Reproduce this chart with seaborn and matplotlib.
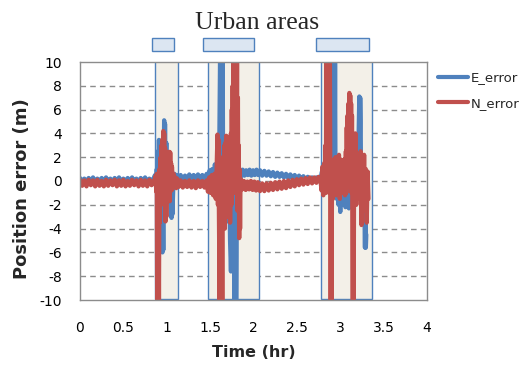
import matplotlib
matplotlib.use('Agg')
import matplotlib.pyplot as plt
import seaborn as sns
import pandas as pd
from matplotlib.patches import Rectangle

# E_error (blue) - time in hours, error in metres
e_time = [0.0, 0.025, 0.05, 0.075, 0.1, 0.125, 0.15, 0.175, 0.2, 0.225, 0.25, 0.275, 0.3, 0.325, 0.35, 0.375, 0.4, 0.425,
          0.45, 0.475, 0.5, 0.525, 0.55, 0.575, 0.6, 0.625, 0.65, 0.675, 0.7, 0.725, 0.75, 0.775, 0.8, 0.825, 0.85,
          # urban 1
          0.865, 0.875, 0.885, 0.895, 0.9, 0.905, 0.91, 0.915, 0.92, 0.925, 0.935, 0.945, 0.95, 0.955, 0.96, 0.965,
          0.97, 0.975, 0.98, 0.985, 0.995, 1.005, 1.015, 1.025, 1.035, 1.045, 1.055, 1.06, 1.065, 1.075, 1.09,
          1.105, 1.12,
          1.135, 1.16, 1.185, 1.21, 1.235, 1.26, 1.285, 1.31, 1.335, 1.36, 1.385, 1.41, 1.435, 1.46,
          # urban 2
          1.48, 1.495, 1.51, 1.525, 1.54, 1.555, 1.57, 1.585, 1.6, 1.615, 1.62, 1.625, 1.63, 1.635, 1.64, 1.645,
          1.65, 1.66, 1.67, 1.68, 1.69, 1.7, 1.71, 1.72, 1.73, 1.74, 1.75, 1.76, 1.77, 1.78, 1.785, 1.79, 1.795,
          1.8, 1.805, 1.81, 1.82, 1.83, 1.84,
          1.855, 1.875, 1.895, 1.915, 1.935, 1.955, 1.975, 1.995, 2.015, 2.035, 2.055,
          2.075, 2.1, 2.125, 2.15, 2.175, 2.2, 2.225, 2.25, 2.275, 2.3, 2.325, 2.35, 2.375, 2.4, 2.425, 2.45, 2.475,
          2.5, 2.525, 2.55, 2.575, 2.6, 2.625, 2.65, 2.675, 2.7, 2.725, 2.75, 2.775,
          # urban 3
          2.79, 2.8, 2.81, 2.82, 2.83, 2.84, 2.85, 2.86, 2.87, 2.88, 2.89, 2.9, 2.91, 2.915, 2.92, 2.925, 2.93,
          2.935, 2.94, 2.945, 2.95, 2.96, 2.97, 2.98, 2.99, 3.0, 3.01, 3.02, 3.03, 3.04, 3.05, 3.06, 3.07, 3.08,
          3.09, 3.1, 3.11, 3.12, 3.13, 3.14, 3.15, 3.16, 3.17, 3.18, 3.19, 3.2, 3.21, 3.22, 3.225, 3.23, 3.235,
          3.24, 3.25, 3.26, 3.27, 3.28, 3.285, 3.29, 3.295, 3.3]
e_error = [0.25, -0.05, 0.2, -0.1, 0.25, -0.05, 0.3, -0.1, 0.2, -0.05, 0.25, -0.1, 0.3, -0.05, 0.2, -0.1, 0.25, -0.05,
           0.3, -0.1, 0.2, -0.05, 0.25, -0.1, 0.3, -0.05, 0.2, -0.1, 0.25, -0.05, 0.3, -0.1, 0.2, -0.05, 0.25,
           0.5, -0.4, 1.0, -0.8, 2.5, -0.5, 3.45, -1.0, 3.2, -1.2, 2.5, -3.5, -6.0, -1.0, -5.8, 1.0,
           5.1, -1.0, 4.8, 0.3, 3.2, -1.8, 1.8, -1.2, 0.8, -2.0, -3.1, 0.5, -2.8, -0.5, 0.6,
           0.1, 0.5,
           0.15, 0.5, 0.1, 0.45, 0.15, 0.55, 0.2, 0.5, 0.15, 0.55, 0.2, 0.5, 0.15, 0.6,
           0.2, 0.9, -0.3, 1.0, -0.6, 1.4, -1.0, 1.8, -2.0, 10.5, -0.5, 10.5, 0.0, 10.5, 1.0, 10.5,
           -1.5, 2.0, -2.5, 3.0, -2.0, 1.5, -3.4, 0.8, -5.0, -7.6, -3.0, -7.0, -1.0, -10.5, -4.0, -10.5, -3.0,
           -10.5, -6.0, 0.5, -1.5, 1.0, -0.5,
           0.45, 0.95, 0.45, 0.9, 0.5, 0.95, 0.45, 0.9, 0.5, 0.95, 0.5,
           0.9, 0.45, 0.85, 0.45, 0.8, 0.4, 0.75, 0.35, 0.7, 0.35, 0.65, 0.3, 0.6, 0.25, 0.55, 0.2, 0.5,
           0.15, 0.45, 0.1, 0.4, 0.05, 0.35, 0.05, 0.3, 0.0, 0.3, 0.0, 0.3,
           0.8, -0.4, 1.2, -0.6, 1.5, -0.8, 1.0, -0.5, 1.6, -1.0, 2.0, -0.5, 1.5, -1.0, 10.5, 1.0, 10.5,
           0.0, 10.5, -0.5, 1.8, -1.5, 1.2, -2.0, 1.5, -2.6, 1.0, -2.0, 0.8, -1.2, 1.6, -2.2, 0.5, -1.5,
           1.0, -2.3, 0.0, -1.8, -0.2, -2.2, 0.5, -1.0, 0.8, -1.5, 0.5, -1.0, 3.0, 7.1, 3.0, 7.0, 5.0,
           -0.5, 1.0, -1.5, 0.0, -3.0, -5.6, -2.0, -5.6, -4.5]

# N_error (red)
n_time = [0.0, 0.025, 0.05, 0.075, 0.1, 0.125, 0.15, 0.175, 0.2, 0.225, 0.25, 0.275, 0.3, 0.325, 0.35, 0.375, 0.4, 0.425,
          0.45, 0.475, 0.5, 0.525, 0.55, 0.575, 0.6, 0.625, 0.65, 0.675, 0.7, 0.725, 0.75, 0.775, 0.8, 0.825, 0.85,
          # urban 1
          0.86, 0.87, 0.88, 0.885, 0.89, 0.895, 0.9, 0.905, 0.91, 0.915, 0.92, 0.93, 0.935, 0.94, 0.945, 0.95,
          0.955, 0.96, 0.965, 0.97, 0.975, 0.98, 0.985, 0.99, 0.995, 1.0, 1.005, 1.01, 1.015, 1.02, 1.025, 1.03,
          1.035, 1.04, 1.045, 1.05, 1.055, 1.06, 1.07, 1.08, 1.09, 1.1, 1.11, 1.12,
          1.135, 1.16, 1.185, 1.21, 1.235, 1.26, 1.285, 1.31, 1.335, 1.36, 1.385, 1.41, 1.435, 1.46,
          # urban 2
          1.475, 1.49, 1.505, 1.52, 1.535, 1.55, 1.565, 1.575, 1.585, 1.59, 1.595, 1.6, 1.61, 1.615, 1.62, 1.625,
          1.63, 1.635, 1.64, 1.645, 1.65, 1.655, 1.66, 1.665, 1.67, 1.675, 1.68, 1.685, 1.69, 1.695, 1.7, 1.705,
          1.71, 1.715, 1.72, 1.725, 1.73, 1.74, 1.745, 1.75, 1.755, 1.76, 1.765, 1.77, 1.775, 1.78, 1.785, 1.79,
          1.795, 1.8, 1.805, 1.81, 1.815, 1.82, 1.825, 1.83, 1.835, 1.84, 1.845, 1.85,
          1.87, 1.89, 1.91, 1.93, 1.95, 1.97, 1.99, 2.01, 2.03, 2.05,
          2.075, 2.1, 2.125, 2.15, 2.175, 2.2, 2.225, 2.25, 2.275, 2.3, 2.325, 2.35, 2.375, 2.4, 2.425, 2.45, 2.475,
          2.5, 2.525, 2.55, 2.575, 2.6, 2.625, 2.65, 2.675, 2.7, 2.725, 2.75, 2.775,
          # urban 3
          2.785, 2.795, 2.805, 2.815, 2.825, 2.83, 2.835, 2.84, 2.845, 2.85, 2.855, 2.86, 2.865, 2.87, 2.875, 2.88,
          2.885, 2.89, 2.895, 2.9, 2.905, 2.915, 2.925, 2.935, 2.945, 2.955, 2.965, 2.975, 2.985, 2.995, 3.005,
          3.015, 3.025, 3.035, 3.045, 3.055, 3.065, 3.07, 3.075, 3.08, 3.085, 3.09, 3.095, 3.1, 3.105, 3.11, 3.115,
          3.12, 3.125, 3.13, 3.135, 3.14, 3.145, 3.15, 3.155, 3.16, 3.165, 3.175, 3.185, 3.195, 3.205, 3.215,
          3.225, 3.235, 3.245, 3.255, 3.265, 3.275, 3.285, 3.295, 3.305, 3.315, 3.325]
n_error = [0.1, -0.4, 0.05, -0.45, 0.1, -0.35, 0.05, -0.45, 0.1, -0.4, 0.0, -0.45, 0.1, -0.4, 0.05, -0.35, 0.1, -0.45,
           0.05, -0.4, 0.1, -0.45, 0.0, -0.4, 0.1, -0.35, 0.05, -0.45, 0.1, -0.4, 0.05, -0.45, 0.1, -0.35, 0.05,
           -0.2, 0.4, -0.9, 0.6, -10.5, -2.0, -10.5, -1.0, -10.5, 1.0, -3.5, 2.0, -2.0, 3.0, -1.5, 3.5,
           -1.8, 4.2, -1.0, 4.0, -1.8, 2.8, -3.4, 2.5, -3.0, 2.0, -1.0, 1.6, -1.7, 2.0, -1.5, 2.45,
           -1.7, 2.4, -0.8, 1.5, -0.8, 1.2, -0.6, 0.6, -0.5, 0.3, -0.6, 0.2,
           -0.5, 0.05, -0.55, 0.0, -0.5, 0.05, -0.55, 0.0, -0.6, 0.05, -0.5, 0.0, -0.55, 0.05,
           -0.9, 0.3, -1.0, 0.5, -1.2, 0.6, -1.5, 1.0, 3.9, -2.0, 3.5, -1.5, -10.5, -3.0, -10.5, -2.0,
           -10.5, -1.0, -10.5, 2.0, -3.0, 1.5, -2.5, 3.0, -4.0, 3.2, -2.0, 3.8, -3.0, 3.0, -2.0, 3.7,
           -3.0, 3.5, -1.5, 2.5, -3.5, 4.0, -2.0, 6.0, -1.0, 8.0, -1.0, 10.5, 0.0, 10.5, 1.0, 10.5,
           -1.0, 10.5, 2.0, 10.5, -2.5, 7.0, -2.0, 3.0, -4.8, 1.0, -4.0, 0.2,
           -0.7, 0.0, -0.75, -0.05, -0.7, 0.0, -0.75, -0.05, -0.8, -0.1,
           -0.85, -0.2, -0.85, -0.2, -0.8, -0.15, -0.75, -0.1, -0.7, -0.05, -0.65, 0.0, -0.6, 0.05, -0.5, 0.1, -0.45,
           0.15, -0.35, 0.2, -0.3, 0.25, -0.25, 0.3, -0.2, 0.3, -0.15, 0.35, -0.15,
           -0.8, 1.2, -1.2, 1.5, -0.5, 3.0, -1.0, 10.5, 0.0, 10.5, -0.5, 10.5, 1.0, 10.5, -1.0, 10.5,
           -1.5, -10.5, 0.5, -10.5, 1.5, -1.5, 1.8, -1.0, 2.0, -1.2, 1.5, -0.8, 2.2, -1.5, 1.8,
           -1.0, 1.5, -0.5, 1.8, -1.2, 2.5, -1.0, 4.5, -0.5, 5.5, 0.0, 6.5, 0.5, 7.4, 1.0, 7.2,
           0.0, 6.5, -1.0, 5.5, -2.0, -10.5, 3.0, -10.5, 3.5, -1.5, 4.0, -2.0, 1.5, -1.0, 2.2,
           -1.5, 2.5, -3.7, 1.8, -2.0, 2.2, -2.5, 1.0, -3.5, 0.8, -1.5]

# urban area boxes (hr)
urban_start = [0.86, 1.47, 2.78]
urban_end = [1.13, 2.06, 3.37]
label_start = [0.826, 1.418, 2.72]
label_end = [1.08, 2.002, 3.33]

x_ticks = [0, 0.5, 1, 1.5, 2, 2.5, 3, 3.5, 4]
x_labels = ['0', '0.5', '1', '1.5', '2', '2.5', '3', '3.5', '4']
y_ticks = [-10, -8, -6, -4, -2, 0, 2, 4, 6, 8, 10]

df_e = pd.DataFrame({'time': e_time, 'err': e_error})
df_n = pd.DataFrame({'time': n_time, 'err': n_error})

sns.set_theme(style='white')
plt.rcParams['font.family'] = ['DejaVu Sans']
plt.rcParams['axes.unicode_minus'] = False

fig = plt.figure(figsize=(5.29, 3.65), dpi=100)
ax = fig.add_axes([80/529, 65/365, 347/529, 238/365])

blue = '#4f81bd'
red = '#c0504d'

#shaded urban boxes inside the plot
for s, e in zip(urban_start, urban_end):
    ax.add_patch(Rectangle((s, -9.9), e - s, 19.95, facecolor='#f3f0e8', edgecolor=blue, lw=1, zorder=1))
#label boxes above the plot
for s, e in zip(label_start, label_end):
    ax.add_patch(Rectangle((s, 10.92), e - s, 1.1, facecolor='#dce6f2', edgecolor=blue, lw=1,
                           clip_on=False, zorder=3))

sns.lineplot(data=df_e, x='time', y='err', estimator=None, sort=False, color=blue, lw=3.1,
             label='E_error', ax=ax, zorder=2)
sns.lineplot(data=df_n, x='time', y='err', estimator=None, sort=False, color=red, lw=3.1,
             label='N_error', ax=ax, zorder=2.5)

ax.set_xlim(0, 4)
ax.set_ylim(-10, 10)
ax.set_xticks(x_ticks)
ax.set_xticklabels(x_labels)
ax.set_yticks(y_ticks)
ax.tick_params(length=0, labelsize=10, colors='black')
ax.tick_params(axis='x', pad=15)
ax.tick_params(axis='y', pad=13)

for y in y_ticks[1:-1]:
    ax.axhline(y, color='#8c8c8c', lw=1, ls=(0, (4, 3)), zorder=0.5)
for sp in ax.spines.values():
    sp.set_color('#8c8c8c')
    sp.set_linewidth(1)

ax.set_xlabel('Time (hr)', fontsize=11.5, fontweight='bold', va='top')
ax.xaxis.set_label_coords(0.501, -0.19)
ax.set_ylabel('Position error (m)', fontsize=13, fontweight='bold', va='center')
ax.yaxis.set_label_coords(-0.167, 0.466)

fig.text(257/529, 1 - 23/365, 'Urban areas', family='Liberation Serif', fontsize=18.5,
         ha='center', va='center')

leg = ax.legend(loc='upper left', bbox_to_anchor=(1.032, 0.96), frameon=False, fontsize=9.5,
                handlelength=2.3, handletextpad=0.15, labelspacing=0.95, borderpad=0, borderaxespad=0)
for line in leg.get_lines():
    line.set_linewidth(3)

fig.savefig('out.png', dpi=100)
